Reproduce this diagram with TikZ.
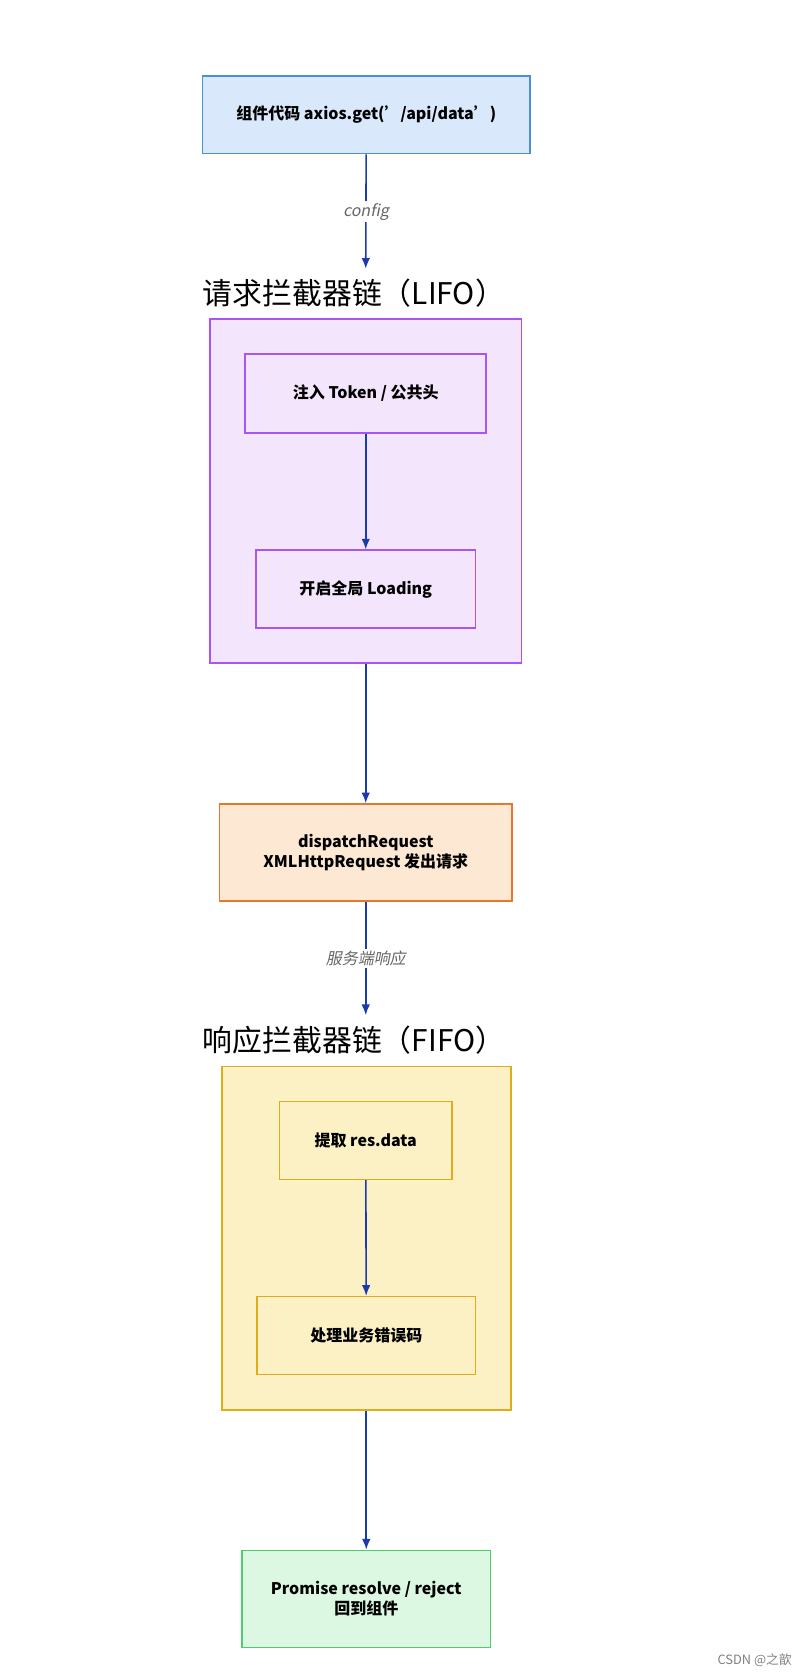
\documentclass[tikz,border=0pt]{standalone}
\usepackage{fontspec}
\setmainfont{Noto Sans CJK SC}
\newfontfamily\slantfont{Noto Sans CJK SC}[FakeSlant=0.2]
\usetikzlibrary{arrows.meta}
\definecolor{arrowblue}{HTML}{1A3CAA}
\definecolor{blueline}{HTML}{4A90D9}
\definecolor{bluefill}{HTML}{DAE8FC}
\definecolor{purpleline}{HTML}{A855F7}
\definecolor{purplefill}{HTML}{F3E5FB}
\definecolor{orangeline}{HTML}{E8772E}
\definecolor{orangefill}{HTML}{FDE9D3}
\definecolor{yellowline}{HTML}{E0AC1A}
\definecolor{yellowfill}{HTML}{FCF0C5}
\definecolor{greenline}{HTML}{4CCF6A}
\definecolor{greenfill}{HTML}{DCF8E3}
\tikzstyle{box} = [draw, line width=1.5pt, align=center, font=\fontsize{15}{19}\selectfont\bfseries, inner sep=0pt]
\begin{document}
\begin{tikzpicture}[x=1pt,y=-1pt,
			flow/.style={-{Latex[length=10pt,width=8pt]}, arrowblue, line width=1.5pt},
			lab/.style={font=\fontsize{15}{18}\selectfont\slantfont, text=gray!80!black, fill=white, inner sep=2pt},
			title/.style={font=\fontsize{28}{32}\selectfont, anchor=west, inner sep=0pt},
			group/.style={draw, line width=1.5pt}]
			\useasboundingbox (0,0) rectangle (750,1568);
			% request side
			\node (comp)[box, blueline, fill=bluefill, text=black, minimum width=307, minimum height=73] at (343.5,107.5) {组件代码 axios.get(\symbol{39}/api/data\symbol{39})};
			\node (reqtitle)[title] at (190,275) {请求拦截器链（LIFO）};
			\node (reqgroup)[group, purpleline, fill=purplefill, minimum width=292, minimum height=323] at (343,460.5) {};
			\node (token)[box, purpleline, text=black, minimum width=226, minimum height=74] at (343,369) {注入 Token / 公共头};
			\node (loading)[box, purpleline, text=black, minimum width=206, minimum height=73] at (343,552.5) {开启全局 Loading};
			\node (dispatch)[box, orangeline, fill=orangefill, text=black, minimum width=274, minimum height=91] at (343,799.5) {dispatchRequest\\XMLHttpRequest 发出请求};
			% response side
			\node (restitle)[title] at (190,975) {响应拦截器链（FIFO）};
			\node (resgroup)[group, yellowline, fill=yellowfill, minimum width=271, minimum height=322] at (343.5,1161) {};
			\node (extract)[box, yellowline, text=black, minimum width=162, minimum height=73] at (343,1069.5) {提取 res.data};
			\node (errcode)[box, yellowline, text=black, minimum width=205, minimum height=73] at (343.5,1252.5) {处理业务错误码};
			\node (promise)[box, greenline, fill=greenfill, text=black, minimum width=233, minimum height=91] at (343.5,1499.5) {Promise resolve / reject\\回到组件};
			\coordinate (reqtop) at (343,252);
			\coordinate (restop) at (343,952);

			\draw[flow] (comp) -- (reqtop) node [midway, lab] {config};
			\draw[flow] (token) -- (loading);
			\draw[flow] (reqgroup) -- (dispatch);
			\draw[flow] (dispatch) -- (restop) node [midway, lab] {服务端响应};
			\draw[flow] (extract) -- (errcode);
			\draw[flow] (resgroup) -- (promise);
			\node (mark)[anchor=east, text=gray, font=\fontsize{12}{14}\selectfont] at (746,1557) {CSDN @之歆};
		\end{tikzpicture}
\end{document}
